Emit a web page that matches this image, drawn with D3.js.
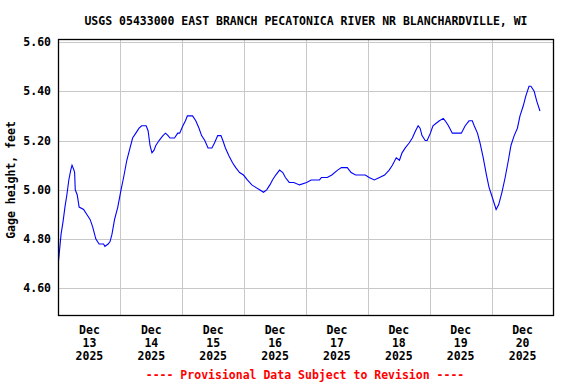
<!DOCTYPE html>
<html>
<head>
<meta charset="utf-8">
<script src="https://cdn.jsdelivr.net/npm/d3@7"></script>
<style>
  body { margin: 0; background: #fff; }
  text { font-family: "DejaVu Sans Mono", monospace; font-weight: bold; font-size: 11.5px; }
</style>
</head>
<body>
<svg id="chart" width="576" height="384"></svg>
<script>
// gage readings, hours after Dec 13 2025 00:00
var hours = [0, 1, 1.75, 2.5, 3.25, 4, 4.75, 5.25, 6, 6.25, 6.5, 7.25, 8, 9.75, 11, 12.25, 13.25, 14.5,
  15.75, 17.5, 18, 19.25, 20, 20.75, 21.75, 23, 24.25, 25.25, 26.5, 27.75, 28.75, 30, 31.25, 32.25,
  34, 34.75, 35.5, 36.25, 37, 37.75, 39, 40.5, 41.5, 42.5, 43.25, 45, 46.25, 47, 48.25, 49.25, 50,
  52, 53.25, 54.5, 55.5, 56.75, 58, 59.5, 60.5, 61.75, 63, 63.75, 64.75, 66, 67.5, 68.75, 70.25,
  71.75, 73.25, 75, 76.5, 78, 79.5, 80.75, 82, 83, 84.25, 85.75, 87, 88, 89.5, 91.25, 93.5, 96.25,
  98, 101.25, 102, 104.25, 106, 108.25, 109.75, 112, 113.5, 115.25, 119, 120.5, 122.5, 124.5,
  126.5, 128.25, 129.5, 131, 132.25, 133.25, 134.5, 136, 137.25, 138.5, 139.5, 140.25, 141, 142.25,
  143, 144.25, 145.25, 146.5, 147.75, 149.25, 150, 151.25, 152.75, 154.75, 156.25, 157.75, 159.25,
  160.5, 161.25, 162.5, 163.5, 164.75, 166, 167, 168.25, 169.75, 170.75, 172, 173.25, 174.5, 175.5,
  176.75, 178, 179, 180.25, 181.25, 182.5, 183.25, 184.5, 185.5, 186.75];
var gage = [4.71, 4.82, 4.87, 4.93, 4.98, 5.04, 5.08, 5.10, 5.08, 5.07, 5.00, 4.98, 4.93, 4.92, 4.90,
  4.88, 4.85, 4.80, 4.78, 4.78, 4.77, 4.78, 4.79, 4.82, 4.88, 4.93, 5.00, 5.05, 5.12, 5.17, 5.21,
  5.23, 5.25, 5.26, 5.26, 5.24, 5.18, 5.15, 5.16, 5.18, 5.20, 5.22, 5.23, 5.22, 5.21, 5.21, 5.23,
  5.23, 5.26, 5.28, 5.30, 5.30, 5.28, 5.25, 5.22, 5.20, 5.17, 5.17, 5.19, 5.22, 5.22, 5.20, 5.17,
  5.14, 5.11, 5.09, 5.07, 5.06, 5.04, 5.02, 5.01, 5.00, 4.99, 5.00, 5.02, 5.04, 5.06, 5.08, 5.07,
  5.05, 5.03, 5.03, 5.02, 5.03, 5.04, 5.04, 5.05, 5.05, 5.06, 5.08, 5.09, 5.09, 5.07, 5.06, 5.06,
  5.05, 5.04, 5.05, 5.06, 5.08, 5.10, 5.13, 5.12, 5.15, 5.17, 5.19, 5.21, 5.24, 5.26, 5.25, 5.22,
  5.20, 5.20, 5.23, 5.26, 5.27, 5.28, 5.29, 5.28, 5.26, 5.23, 5.23, 5.23, 5.26, 5.28, 5.28, 5.26,
  5.23, 5.19, 5.13, 5.06, 5.01, 4.97, 4.92, 4.94, 4.99, 5.05, 5.12, 5.18, 5.22, 5.25, 5.30, 5.34,
  5.38, 5.42, 5.42, 5.40, 5.36, 5.32];
var yTicks = [4.60, 4.80, 5.00, 5.20, 5.40, 5.60];
var dayLabels = ["13", "14", "15", "16", "17", "18", "19", "20"];
var title = "USGS 05433000 EAST BRANCH PECATONICA RIVER NR BLANCHARDVILLE, WI";

var svg = d3.select("#chart");
var pLeft = 58.5, pRight = 553.5, pTop = 39.5, pBottom = 315.5;
var t0 = new Date(2025, 11, 13);
function at(h) { return new Date(t0.getTime() + h * 3600000); }

var x = d3.scaleTime().domain([t0, at(192)]).range([pLeft, pRight]);
var y = d3.scaleLinear().domain([4.49, 5.61]).range([pBottom, pTop]);

// grid
svg.append("g").selectAll("line").data(yTicks).join("line")
   .attr("x1", pLeft).attr("x2", pRight)
   .attr("y1", d => Math.round(y(d)) + 0.5).attr("y2", d => Math.round(y(d)) + 0.5)
   .attr("stroke", "#c8c8c8");
svg.append("g").selectAll("line").data(d3.range(1, 8)).join("line")
   .attr("x1", d => Math.round(x(at(d * 24))) + 0.5).attr("x2", d => Math.round(x(at(d * 24))) + 0.5)
   .attr("y1", pTop).attr("y2", pBottom)
   .attr("stroke", "#c8c8c8");

// data line
svg.append("path")
   .datum(hours.map((h, i) => [at(h), gage[i]]))
   .attr("fill", "none").attr("stroke", "#0000ff").attr("stroke-width", 1.1)
   .attr("d", d3.line().x(d => x(d[0])).y(d => y(d[1])));

// frame
svg.append("rect").attr("x", pLeft).attr("y", pTop)
   .attr("width", pRight - pLeft).attr("height", pBottom - pTop)
   .attr("fill", "none").attr("stroke", "#000").attr("stroke-width", 1.3);

// y labels
svg.append("g").selectAll("text").data(yTicks).join("text")
   .attr("x", 51).attr("y", d => y(d)).attr("dy", "0.35em")
   .attr("text-anchor", "end").text(d => d.toFixed(2));
svg.append("text").attr("transform", "translate(15,180) rotate(-90)")
   .attr("text-anchor", "middle").text("Gage height, feet");

// x labels
var xl = svg.append("g").selectAll("g").data(dayLabels).join("g")
   .attr("transform", (d, i) => "translate(" + x(at(i * 24 + 12)) + ",0)");
xl.append("text").attr("y", 334).attr("text-anchor", "middle").text("Dec");
xl.append("text").attr("y", 347).attr("text-anchor", "middle").text(d => d);
xl.append("text").attr("y", 360).attr("text-anchor", "middle").text("2025");

svg.append("text").attr("x", 306).attr("y", 25).attr("text-anchor", "middle").text(title);
svg.append("text").attr("x", 305).attr("y", 379).attr("text-anchor", "middle")
   .attr("fill", "#ff0000").text("---- Provisional Data Subject to Revision ----");
</script>
</body>
</html>
